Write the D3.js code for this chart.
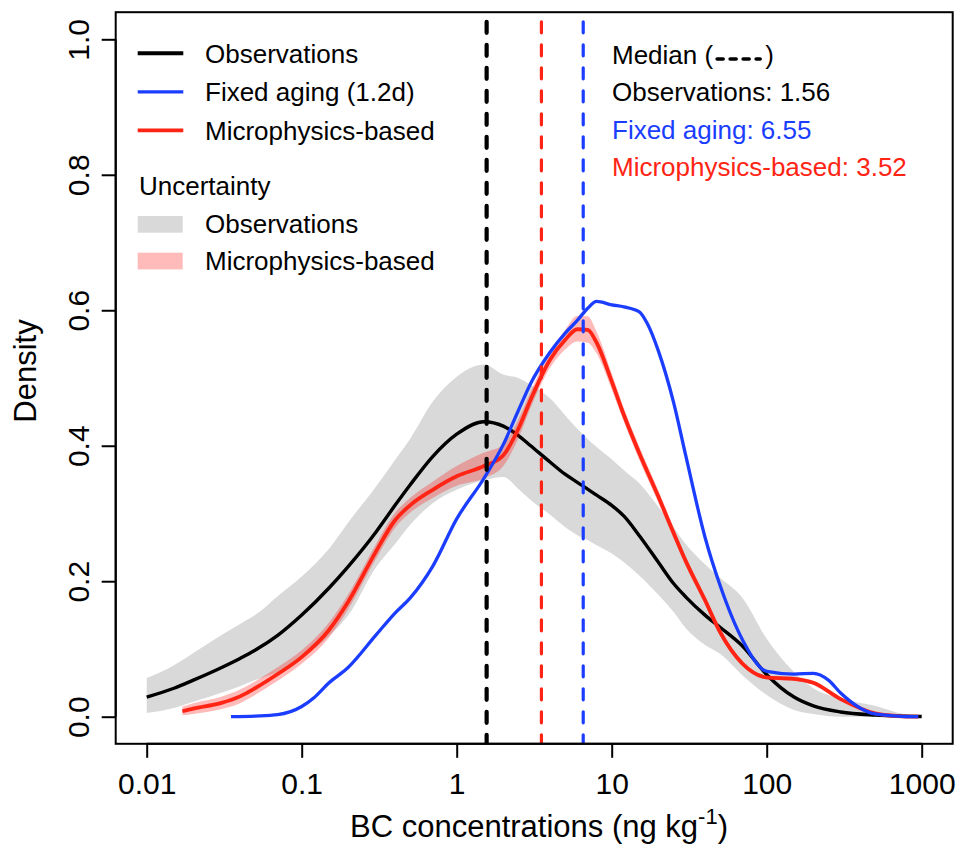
<!DOCTYPE html>
<html><head><meta charset="utf-8">
<script src="https://cdn.jsdelivr.net/npm/d3@7"></script>
<style>
html,body{margin:0;padding:0;background:#fff;}
svg{display:block;font-family:"Liberation Sans",Arial,Helvetica,sans-serif;}
</style></head><body>
<svg id="chart" width="963" height="847"></svg>
<script>
// ---- Observations: density estimate and its uncertainty range ----
const obsConc = [0.01,0.015,0.02,0.03,0.04,0.05,0.07,0.1,0.15,0.2,0.3,0.4,0.5,0.7,1,1.5,2,2.5,3,4,5,6,7,8,10,12,15,20,25,30,40,50,70,100,150,200,300,500,700,1000];
const obsDensity = [0.029,0.042,0.054,0.072,0.086,0.098,0.12,0.150,0.190,0.222,0.272,0.312,0.342,0.384,0.417,0.4355,0.429,0.415,0.400,0.376,0.358,0.346,0.336,0.327,0.312,0.296,0.268,0.228,0.197,0.177,0.150,0.132,0.104,0.062,0.029,0.016,0.007,0.0025,0.001,0.0003];
const obsHigh = [0.057,0.076,0.094,0.12,0.137,0.15,0.178,0.207,0.248,0.287,0.339,0.379,0.41,0.465,0.502,0.52,0.505,0.5,0.49,0.47,0.445,0.425,0.41,0.398,0.38,0.364,0.345,0.31,0.28,0.255,0.225,0.205,0.175,0.115,0.066,0.042,0.027,0.016,0.006,0];
const obsLow = [0.0055,0.013,0.022,0.035,0.045,0.054,0.066,0.087,0.119,0.15,0.22,0.255,0.283,0.315,0.335,0.349,0.354,0.336,0.32,0.298,0.28,0.268,0.261,0.253,0.241,0.228,0.209,0.18,0.155,0.131,0.106,0.093,0.061,0.032,0.01,0.004,0,0,0,0];

// ---- Microphysics-based simulation and its uncertainty range ----
const microConc = [0.017,0.02,0.03,0.04,0.05,0.07,0.1,0.15,0.2,0.3,0.4,0.5,0.7,1,1.5,2,2.5,3,4,5,6,7,8,10,12,15,20,25,30,40,50,70,100,150,200,300,500,700,950];
const microDensity = [0.008,0.012,0.020,0.030,0.042,0.063,0.088,0.128,0.17,0.243,0.29,0.312,0.335,0.355,0.37,0.386,0.425,0.468,0.527,0.556,0.572,0.571,0.552,0.495,0.445,0.39,0.325,0.272,0.23,0.172,0.125,0.078,0.058,0.056,0.05,0.026,0.005,0.001,0];
const microLow = [0.002,0.004,0.011,0.02,0.032,0.053,0.078,0.117,0.159,0.232,0.279,0.301,0.323,0.341,0.352,0.37,0.411,0.456,0.515,0.542,0.554,0.552,0.536,0.483,0.435,0.38,0.316,0.264,0.223,0.166,0.12,0.075,0.055,0.053,0.047,0.024,0.004,0.001,0];
const microHigh = [0.015,0.02,0.029,0.04,0.052,0.073,0.098,0.139,0.181,0.254,0.301,0.323,0.347,0.37,0.39,0.402,0.439,0.48,0.539,0.571,0.592,0.591,0.568,0.507,0.455,0.4,0.334,0.28,0.237,0.178,0.13,0.081,0.061,0.059,0.053,0.028,0.006,0.001,0];

// ---- Fixed aging (1.2d) simulation ----
const fixedConc = [0.035,0.05,0.07,0.1,0.12,0.15,0.2,0.3,0.4,0.5,0.7,1,1.5,2,2.5,3,4,5,6,7,8,10,12,15,17,20,25,30,40,50,70,100,150,200,250,300,500,700,950];
const fixedDensity = [0,0.001,0.003,0.015,0.028,0.05,0.073,0.12,0.153,0.175,0.222,0.292,0.352,0.402,0.452,0.492,0.538,0.566,0.585,0.603,0.613,0.608,0.605,0.598,0.58,0.54,0.465,0.386,0.265,0.194,0.113,0.067,0.063,0.064,0.054,0.035,0.004,0.001,0];

// ---- Medians ----
const medianNames = ["Observations","Fixed aging","Microphysics-based"];
const medianValues = [1.56, 6.55, 3.52];

// ---- Axis ticks ----
const xTicks = [0.01,0.1,1,10,100,1000];
const xTickLabels = ["0.01","0.1","1","10","100","1000"];
const yTicks = [0,0.2,0.4,0.6,0.8,1.0];
const yTickLabels = ["0.0","0.2","0.4","0.6","0.8","1.0"];

// ---- Legend entries ----
const lineLegend = ["Observations","Fixed aging (1.2d)","Microphysics-based"];
const bandLegend = ["Observations","Microphysics-based"];

const COL = {obs:"#000000", fixed:"#1a3dff", micro:"#ff2414", gray:"#d9d9d9", pink:"rgba(255,0,0,0.27)"};
const FONT_TICK = 30, FONT_LEG = 26, FONT_TITLE = 31;

const svg = d3.select("#chart");
svg.append("rect").attr("width",963).attr("height",847).attr("fill","#fff");

const P = {left:115.7, right:952.7, top:12.2, bottom:743.8};
const x = d3.scaleLog().domain([Math.pow(10,-2.2), Math.pow(10,3.2)]).range([P.left, P.right]);
const y = d3.scaleLinear().domain([-0.04,1.04]).range([P.bottom, P.top]);

svg.append("defs").append("clipPath").attr("id","plotClip")
  .append("rect").attr("x",P.left).attr("y",P.top).attr("width",P.right-P.left).attr("height",P.bottom-P.top);

const g = svg.append("g").attr("clip-path","url(#plotClip)");

const zip = (xs, ys) => xs.map((v,i)=>[v, ys[i]]);
const lineGen = d3.line().x(d=>x(d[0])).y(d=>y(d[1])).curve(d3.curveMonotoneX);
const areaGen = d3.area().x(d=>x(d[0])).y0(d=>y(d[1])).y1(d=>y(d[2])).curve(d3.curveMonotoneX);

// uncertainty bands and density curves
g.append("path").datum(obsConc.map((c,i)=>[c, obsLow[i], obsHigh[i]]))
  .attr("d", areaGen).attr("fill", COL.gray);
g.append("path").datum(zip(obsConc, obsDensity))
  .attr("d", lineGen).attr("fill","none").attr("stroke",COL.obs).attr("stroke-width",3.4);
g.append("path").datum(microConc.map((c,i)=>[c, microLow[i], microHigh[i]]))
  .attr("d", areaGen).attr("fill", COL.pink);
g.append("path").datum(zip(microConc, microDensity))
  .attr("d", lineGen).attr("fill","none").attr("stroke",COL.micro).attr("stroke-width",3.8);
g.append("path").datum(zip(fixedConc, fixedDensity))
  .attr("d", lineGen).attr("fill","none").attr("stroke",COL.fixed).attr("stroke-width",3.3);

// median lines (drawn upward from the bottom of the plot)
const medColors = [COL.obs, COL.fixed, COL.micro];
const medWidths = [4.2, 3.2, 3.2];
medianValues.forEach((m,i)=>{
  g.append("line")
    .attr("x1", x(m)).attr("x2", x(m))
    .attr("y1", P.bottom + 2).attr("y2", P.top)
    .attr("stroke", medColors[i]).attr("stroke-width", medWidths[i])
    .attr("stroke-dasharray","11,12").attr("stroke-linecap","round");
});

// box
svg.append("rect").attr("x",P.left).attr("y",P.top).attr("width",P.right-P.left).attr("height",P.bottom-P.top)
  .attr("fill","none").attr("stroke","#000").attr("stroke-width",2);

// x axis
const xAxis = svg.append("g").attr("transform",`translate(0,${P.bottom})`)
  .call(d3.axisBottom(x).tickValues(xTicks).tickSize(14).tickFormat((d,i)=>xTickLabels[i]));
xAxis.select(".domain").attr("d", `M${x(xTicks[0])},0H${x(xTicks[xTicks.length-1])}`).attr("stroke-width",2);
xAxis.selectAll(".tick line").attr("stroke-width",2);
xAxis.selectAll(".tick text").attr("y",50).attr("dy",0)
  .attr("font-size",FONT_TICK).attr("font-family",null).attr("fill","#000");

// y axis
const yAxis = svg.append("g").attr("transform",`translate(${P.left},0)`)
  .call(d3.axisLeft(y).tickValues(yTicks).tickSize(14).tickFormat((d,i)=>yTickLabels[i]));
yAxis.select(".domain").attr("d", `M0,${y(0)}V${y(1)}`).attr("stroke-width",2);
yAxis.selectAll(".tick line").attr("stroke-width",2);
yAxis.selectAll(".tick text")
  .attr("x",0).attr("y",0).attr("dy",0)
  .attr("transform",`translate(${89-P.left},0) rotate(-90)`)
  .attr("text-anchor","middle")
  .attr("font-size",FONT_TICK).attr("font-family",null).attr("fill","#000");

// axis titles
svg.append("text").attr("transform","translate(36,371) rotate(-90)")
  .attr("text-anchor","middle").attr("font-size",FONT_TITLE).text("Density");
const xt = svg.append("text").attr("x",539).attr("y",837).attr("text-anchor","middle").attr("font-size",FONT_TITLE);
xt.append("tspan").text("BC concentrations (ng kg");
xt.append("tspan").attr("font-size",22).attr("dy",-13).text("-1");
xt.append("tspan").attr("dy",13).text(")");

// line legend
const legLineColors = [COL.obs, COL.fixed, COL.micro];
const legLineWidths = [4, 3.3, 3.8];
const rowY = [62.7, 101.2, 139.7];
lineLegend.forEach((t,i)=>{
  svg.append("line").attr("x1",137.7).attr("x2",183.3)
    .attr("y1",rowY[i]-9.4).attr("y2",rowY[i]-9.4)
    .attr("stroke",legLineColors[i]).attr("stroke-width",legLineWidths[i]);
  svg.append("text").attr("x",205).attr("y",rowY[i]).attr("font-size",FONT_LEG).text(t);
});
svg.append("text").attr("x",139).attr("y",195).attr("font-size",FONT_LEG).text("Uncertainty");
const bandFill = [COL.gray, COL.pink];
const bandY = [233.3, 270];
bandLegend.forEach((t,i)=>{
  svg.append("rect").attr("x",137.7).attr("y",bandY[i]-17.3).attr("width",45).attr("height",16.7)
    .attr("fill",bandFill[i]);
  svg.append("text").attr("x",205).attr("y",bandY[i]).attr("font-size",FONT_LEG).text(t);
});

// median legend
const medTextColors = [COL.obs, COL.fixed, COL.micro];
const mt = svg.append("text").attr("x",612).attr("y",63.5).attr("font-size",FONT_LEG).text("Median (");
const mtW = mt.node().getComputedTextLength();
const dashX0 = 612 + mtW + 4;
svg.append("line").attr("x1",dashX0).attr("x2",dashX0+43).attr("y1",59).attr("y2",59)
  .attr("stroke","#000").attr("stroke-width",3.6).attr("stroke-dasharray","6,7").attr("stroke-linecap","round");
svg.append("text").attr("x",dashX0+48).attr("y",63.5).attr("font-size",FONT_LEG).text(")");
const medRowY = [101, 138.5, 176];
medianNames.forEach((n,i)=>{
  svg.append("text").attr("x",612).attr("y",medRowY[i]).attr("font-size",FONT_LEG)
    .attr("fill",medTextColors[i]).text(`${n}: ${medianValues[i].toFixed(2)}`);
});
</script>
</body></html>
